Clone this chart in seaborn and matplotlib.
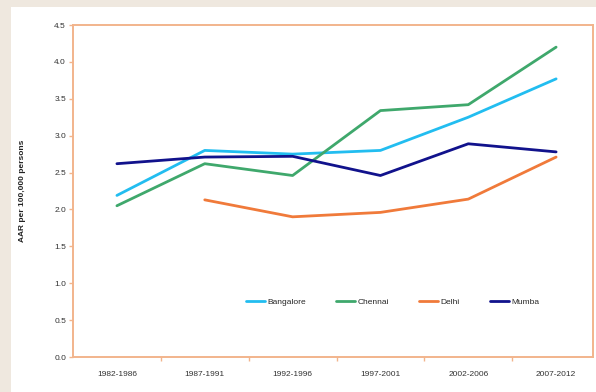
import matplotlib
matplotlib.use("Agg")
import matplotlib.pyplot as plt
import matplotlib.patches as mpatches
import numpy as np
import pandas as pd
import seaborn as sns

periods = ["1982-1986", "1987-1991", "1992-1996", "1997-2001", "2002-2006", "2007-2012"]
bangalore = [2.19, 2.80, 2.75, 2.80, 3.25, 3.77]
chennai = [2.05, 2.62, 2.46, 3.34, 3.42, 4.20]
delhi = [np.nan, 2.13, 1.90, 1.96, 2.14, 2.71]
mumbai = [2.62, 2.71, 2.72, 2.46, 2.89, 2.78]
cities = ["Bangalore", "Chennai", "Delhi", "Mumba"]
colors = ["#22bdf0", "#3fa86c", "#f07a3a", "#11128c"]
y_ticks = [0.0, 0.5, 1.0, 1.5, 2.0, 2.5, 3.0, 3.5, 4.0, 4.5]

df = pd.DataFrame({
    "period": periods * 4,
    "pos": list(range(len(periods))) * 4,
    "city": sum([[c] * len(periods) for c in cities], []),
    "aar": bangalore + chennai + delhi + mumbai,
})

sns.set_theme(style="white")
plt.rcParams["font.family"] = ["Liberation Sans", "DejaVu Sans"]

fig = plt.figure(figsize=(5.96, 3.92), dpi=100, facecolor="#efe8df")
# white card behind the chart
fig.patches.append(mpatches.Rectangle((11 / 596, 0), 1, 1 - 7 / 392,
                                      transform=fig.transFigure,
                                      facecolor="white", edgecolor="none", zorder=-10))
ax = fig.add_axes([73 / 596, 35 / 392, 520 / 596, 332 / 392])
ax.set_facecolor("white")

sns.lineplot(data=df, x="pos", y="aar", hue="city", hue_order=cities,
             palette=colors, linewidth=2.0, sort=False, ax=ax, legend=True)

spine_col = "#f2b48c"
for s in ax.spines.values():
    s.set_color(spine_col)
    s.set_linewidth(1.4)

ax.set_ylim(0, 4.5)
ax.set_yticks(y_ticks)
ax.set_yticklabels([f"{v:.1f}" for v in y_ticks])
ax.set_xlim(-0.5, 5.42)
ax.set_xticks(range(len(periods)))
ax.set_xticklabels(periods)
ax.set_xticks([i + 0.5 for i in range(len(periods) - 1)], minor=True)
ax.tick_params(axis="x", which="major", length=0, labelsize=6, colors="#333333", pad=10)
ax.tick_params(axis="x", which="minor", length=3, direction="out", color=spine_col, width=1)
ax.tick_params(axis="y", which="major", length=3, direction="out", color=spine_col,
               width=1, labelsize=6, labelcolor="#333333", pad=2)
ax.tick_params(left=True, bottom=False)
ax.tick_params(axis="x", which="minor", bottom=True)

ax.set_xlabel("")
ax.set_ylabel("AAR per 100,000 persons", fontsize=6, fontweight="bold", color="#222222", labelpad=20)

leg = ax.legend(loc="center", bbox_to_anchor=(0.615, 0.165), ncol=4, frameon=False,
                fontsize=6, handlelength=2.3, columnspacing=3.6, handletextpad=0.3)
for line in leg.get_lines():
    line.set_linewidth(2.0)

fig.savefig("out.png", dpi=100, facecolor=fig.get_facecolor())
